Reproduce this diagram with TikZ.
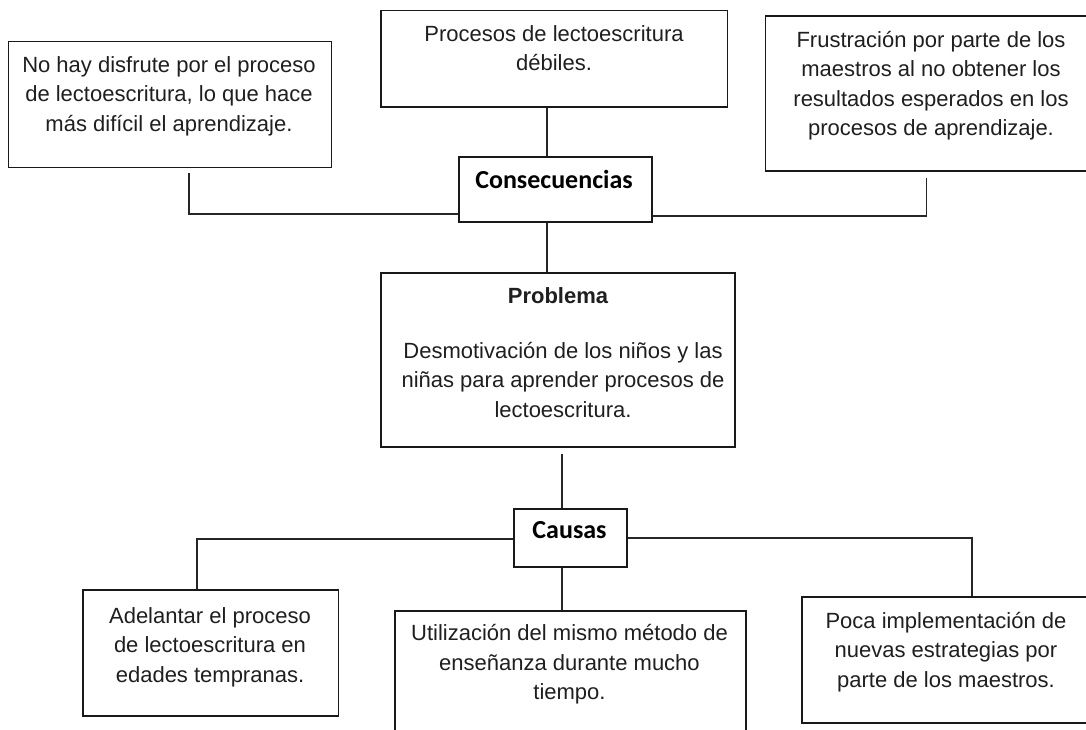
\documentclass[tikz,border=0pt]{standalone}
\usepackage{fontspec}
\setmainfont{Liberation Sans}
\newfontfamily\calibri{Carlito}

\tikzset{
  caja/.style={draw=black!90, line width=1.2pt, inner sep=0pt},
  texto/.style={font=\fontsize{22}{29.5}\selectfont, text=black!88, align=center, inner sep=0pt, anchor=base},
  titulo/.style={font=\calibri\bfseries\fontsize{26}{30}\selectfont, inner sep=0pt, anchor=base},
  linea/.style={draw=black!85, line width=1.2pt}
}

\begin{document}
\begin{tikzpicture}[x=1pt,y=-1pt]
  \clip (0,0) rectangle (1086,730);
  \fill[white] (0,0) rectangle (1086,730);

  % consecuencias (texto anclado en la linea de base de su ultima linea)
  \node[caja, minimum width=322.7pt, minimum height=125.6pt] (efectoA) at (170,104.5) {};
  \node[caja, minimum width=346.6pt, minimum height=96.6pt] (efectoB) at (554.3,58.7) {};
  \node[caja, minimum width=330.4pt, minimum height=155pt] (efectoC) at (930.8,93.5) {};
  \node[texto] (txtA) at (169,131.5) {No hay disfrute por el proceso\\de lectoescritura, lo que hace\\más difícil el aprendizaje.};
  \node[texto] (txtB) at (554,71) {Procesos de lectoescritura\\débiles.};
  \node[texto] (txtC) at (931,136) {Frustración por parte de los\\maestros al no obtener los\\resultados esperados en los\\procesos de aprendizaje.};

  \node[caja, minimum width=193pt, minimum height=65pt] (cons) at (555.5,189.5) {};
  \node[titulo] (txtcons) at (554,188.3) {Consecuencias};

  % problema
  \node[caja, minimum width=354pt, minimum height=174pt] (prob) at (558,360) {};
  \node[texto, font=\bfseries\fontsize{22}{29.5}\selectfont] (txtprob) at (558,303) {Problema};
  \node[texto] (txtprob2) at (563,417) {Desmotivación de los niños y las\\niñas para aprender procesos de\\lectoescritura.};

  % causas
  \node[caja, minimum width=113pt, minimum height=58pt] (causas) at (570.5,538) {};
  \node[titulo] (txtcausas) at (569.5,538.3) {Causas};

  \node[caja, minimum width=255.6pt, minimum height=126pt] (causaA) at (210.8,653) {};
  \node[caja, minimum width=351pt, minimum height=126pt] (causaB) at (570.5,674) {};
  \node[caja, minimum width=288pt, minimum height=126pt] (causaC) at (946,660) {};
  \node[texto] (txtcA) at (210,682) {Adelantar el proceso\\de lectoescritura en\\edades tempranas.};
  \node[texto] (txtcB) at (569.5,699.5) {Utilización del mismo método de\\enseñanza durante mucho\\tiempo.};
  \node[texto] (txtcC) at (946,687) {Poca implementación de\\nuevas estrategias por\\parte de los maestros.};

  % conectores
  \draw[linea] ([xshift=19pt,yshift=-5pt]efectoA.south) |- ([yshift=-24.5pt]cons.west);
  \draw[linea] ([xshift=-4pt,yshift=-6pt]efectoC.south) |- ([yshift=-26.5pt]cons.east);
  \draw[linea] ([xshift=-7.3pt]efectoB.south) -- ([xshift=-8.5pt]cons.north);
  \draw[linea] ([xshift=-8.5pt]cons.south) -- ([xshift=-11pt]prob.north);
  \draw[linea] ([xshift=4pt,yshift=-6pt]prob.south) -- ([xshift=-8.5pt]causas.north);
  \draw[linea] ([xshift=-8.5pt]causas.south) -- ([xshift=-8.5pt]causaB.north);
  \draw[linea] ([yshift=-1pt]causas.west) -| ([xshift=-13.8pt]causaA.north);
  \draw[linea] (causas.east) -| ([xshift=26pt]causaC.north);
\end{tikzpicture}
\end{document}
